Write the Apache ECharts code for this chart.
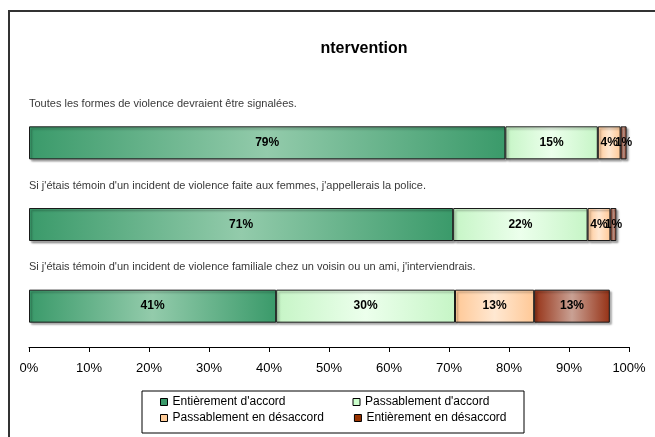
<!DOCTYPE html>
<html>
<head>
<meta charset="utf-8">
<script src="https://cdn.jsdelivr.net/npm/echarts@6/dist/echarts.min.js"></script>
<style>
html,body{margin:0;padding:0;background:#fff;}
#wrap{position:relative;width:655px;height:437px;overflow:hidden;}
#frame{position:absolute;left:8px;top:10px;width:700px;height:500px;border-left:2px solid #333;border-top:2px solid #333;}
#chart{position:absolute;left:0;top:0;width:655px;height:437px;}
</style>
</head>
<body>
<div id="wrap"><div id="frame"></div><div id="chart"></div></div>
<script>
var titleText = 'ntervention';
var categories = [
  'Toutes les formes de violence devraient être signalées.',
  "Si j'étais témoin d'un incident de violence faite aux femmes, j'appellerais la police.",
  "Si j'étais témoin d'un incident de violence familiale chez un voisin ou un ami, j'interviendrais."
];
var seriesNames = ["Entièrement d'accord", "Passablement d'accord", 'Passablement en désaccord', 'Entièrement en désaccord'];
var entierementAccord = [79.4, 70.7, 41.2];
var passablementAccord = [15.4, 22.4, 29.8];
var passablementDesaccord = [3.8, 3.8, 13.2];
var entierementDesaccord = [1.0, 1.0, 12.6];
var xTicks = [0, 10, 20, 30, 40, 50, 60, 70, 80, 90, 100];

var edgeColors = ['#3a9a6a', '#c6f5c6', '#ffc896', '#963216'];
var centerColors = ['#93cbab', '#ecffec', '#ffe8d2', '#c9a194'];
var legendColors = ['#3a9a6a', '#ccffcc', '#ffcc99', '#993300'];
var values = [entierementAccord, passablementAccord, passablementDesaccord, entierementDesaccord];

var FONT = '"Liberation Sans", Arial, sans-serif';

function grad(i) {
  return new echarts.graphic.LinearGradient(0, 0, 1, 0, [
    {offset: 0, color: edgeColors[i]},
    {offset: 0.5, color: centerColors[i]},
    {offset: 1, color: edgeColors[i]}
  ]);
}

var series = values.map(function (arr, i) {
  return {
    name: seriesNames[i],
    type: 'bar',
    stack: 'total',
    barWidth: 33,
    data: arr,
    itemStyle: {
      color: grad(i),
      borderColor: '#1a1a1a',
      borderWidth: 1,
      shadowColor: 'rgba(0,0,0,0.35)',
      shadowOffsetX: 2,
      shadowOffsetY: 2,
      shadowBlur: 2
    },
    label: {
      show: true,
      position: 'inside',
      fontFamily: FONT,
      fontSize: 12,
      fontWeight: 'bold',
      color: '#000',
      formatter: function (p) { return Math.round(p.value) + '%'; }
    },
    emphasis: {disabled: true}
  };
});

// category statements drawn as labels above each bar
series.push({
  name: 'statements',
  type: 'scatter',
  symbolSize: 0,
  silent: true,
  data: categories.map(function (c) { return [0, c]; }),
  label: {
    show: true,
    position: 'right',
    distance: 0,
    offset: [0, -39],
    fontFamily: FONT,
    fontSize: 11,
    color: '#000',
    formatter: function (p) { return p.value[1]; }
  },
  z: 5
});

var legendData = seriesNames.map(function (n, i) {
  return {name: n, itemStyle: {color: legendColors[i], borderColor: '#000', borderWidth: 1}};
});

var legendCommon = {
  orient: 'horizontal',
  left: 142,
  icon: 'rect',
  itemWidth: 7,
  itemHeight: 7,
  itemGap: 30,
  width: 360,
  selectedMode: false,
  textStyle: {fontFamily: FONT, fontSize: 12, color: '#000', width: 150, lineHeight: 14}
};

var option = {
  animation: false,
  title: {
    text: titleText,
    left: 359,
    textAlign: 'center',
    top: 36,
    textStyle: {fontFamily: FONT, fontSize: 16, fontWeight: 'bold', color: '#000'}
  },
  legend: [
    Object.assign({}, legendCommon, {
      top: 391,
      padding: [4, 9, 24, 18],
      borderColor: '#000',
      borderWidth: 1,
      data: legendData.slice(0, 2)
    }),
    Object.assign({}, legendCommon, {
      top: 407,
      padding: [4, 9, 4, 18],
      data: legendData.slice(2, 4)
    })
  ],
  grid: {left: 29, right: 26, top: 102, bottom: 90, containLabel: false},
  xAxis: {
    type: 'value',
    min: xTicks[0],
    max: xTicks[xTicks.length - 1],
    interval: 10,
    axisLine: {show: true, lineStyle: {color: '#000', width: 1}},
    axisTick: {show: true, length: 5, lineStyle: {color: '#000'}},
    splitLine: {show: false},
    axisLabel: {
      margin: 15,
      fontFamily: FONT,
      fontSize: 13,
      color: '#000',
      formatter: '{value}%'
    }
  },
  yAxis: {
    type: 'category',
    inverse: true,
    data: categories,
    axisLine: {show: false},
    axisTick: {show: false},
    axisLabel: {show: false}
  },
  series: series
};

var chart = echarts.init(document.getElementById('chart'), null, {renderer: 'canvas'});
chart.setOption(option);
</script>
</body>
</html>
